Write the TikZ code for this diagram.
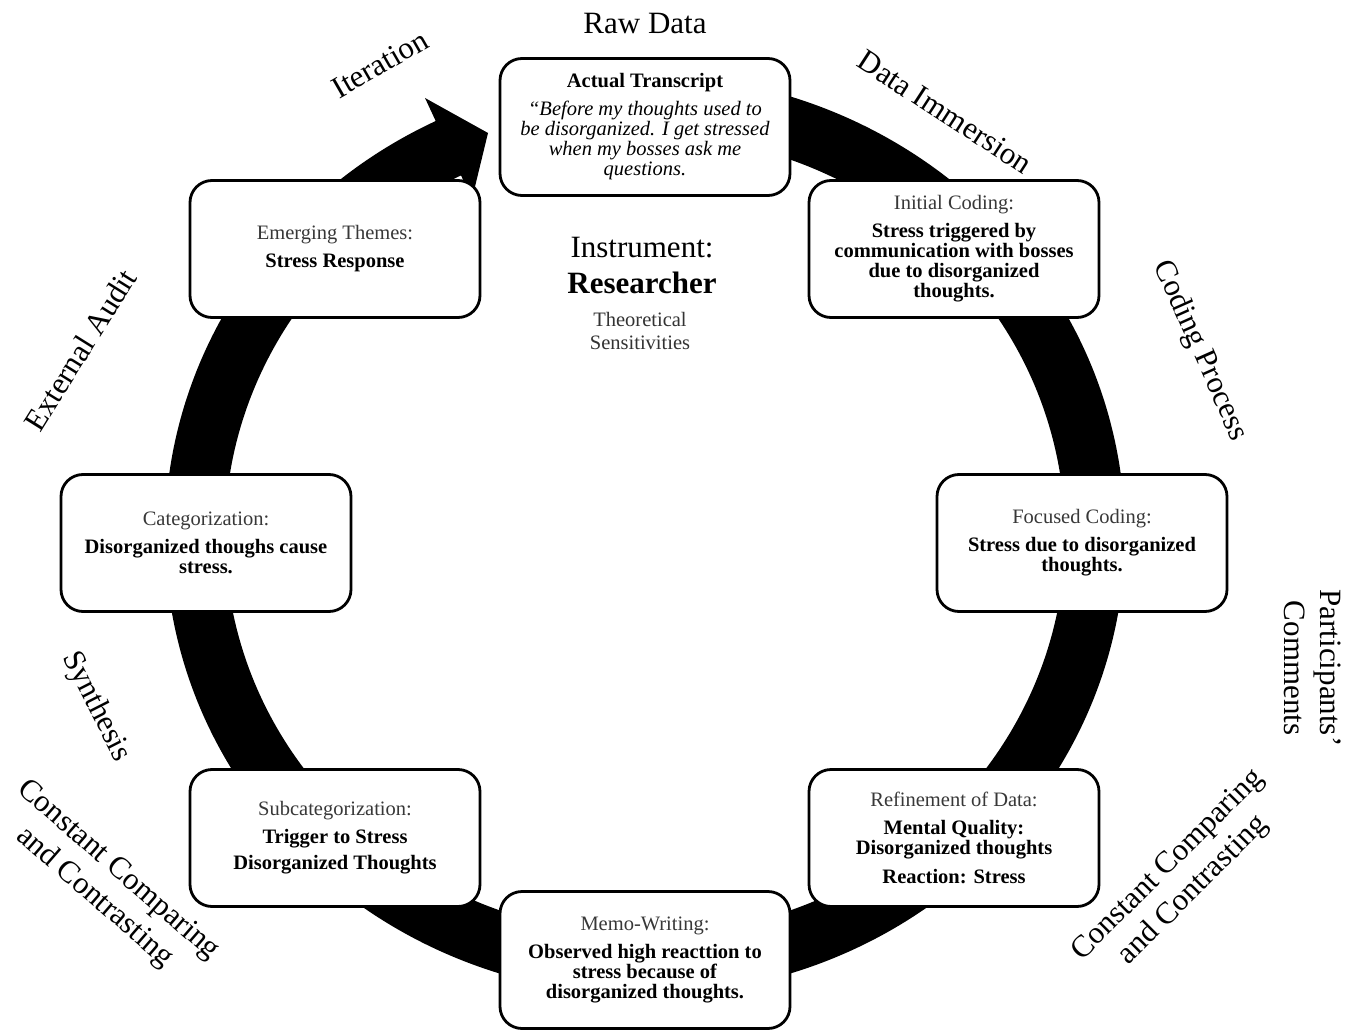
\documentclass[tikz,border=0pt]{standalone}
\usepackage{fontspec}
\setmainfont{Liberation Serif}
\newcommand{\boxtitle}[1]{{\color{black!78}#1}}
\begin{document}
\begin{tikzpicture}[x=1pt,y=-1pt,
  stagebox/.style={draw=black, line width=2.8pt, rounded corners=22pt, fill=white,
    minimum width=290pt, minimum height=137pt, align=center, inner sep=4pt,
    font=\fontsize{20.5}{20}\selectfont},
  biglab/.style={font=\fontsize{31}{36}\selectfont, align=center, inner sep=0pt}]
\useasboundingbox (0,0) rectangle (1368,1032);
\fill[white] (0,0) rectangle (1368,1032);
% ring
\coordinate (c) at (645,535);
\draw[line width=60pt] (c) ++(262:450 and 430)
  arc[start angle=262, end angle=605, x radius=450, y radius=430];
\coordinate (ho) at (425,98);
\coordinate (hi) at (472,199);
\coordinate (ht) at (488,133);
\fill (ho) -- (ht) -- (hi) -- cycle;
% boxes
\node[stagebox] (tr) at (645,127) {\textbf{Actual Transcript}\\[8pt]
  \textit{“Before my thoughts used to}\\
  \textit{be disorganized. I get stressed}\\
  \textit{when my bosses ask me}\\
  \textit{questions.}};
\node[stagebox] (ic) at (954,249) {\boxtitle{Initial Coding:}\\[8pt]
  \textbf{Stress triggered by}\\
  \textbf{communication with bosses}\\
  \textbf{due to disorganized}\\
  \textbf{thoughts.}};
\node[stagebox] (fc) at (1082,543) {\boxtitle{Focused Coding:}\\[8pt]
  \textbf{Stress due to disorganized}\\
  \textbf{thoughts.}};
\node[stagebox] (rd) at (954,838) {\boxtitle{Refinement of Data:}\\[8pt]
  \textbf{Mental Quality:}\\
  \textbf{Disorganized thoughts}\\[9pt]
  \textbf{Reaction: Stress}};
\node[stagebox] (mw) at (645,960) {\boxtitle{Memo-Writing:}\\[8pt]
  \textbf{Observed high reacttion to}\\
  \textbf{stress because of}\\
  \textbf{disorganized thoughts.}};
\node[stagebox] (sc) at (335,838) {\boxtitle{Subcategorization:}\\[8pt]
  \textbf{Trigger to Stress}\\[6pt]
  \textbf{Disorganized Thoughts}};
\node[stagebox] (cat) at (206,543) {\boxtitle{Categorization:}\\[8pt]
  \textbf{Disorganized thoughs cause}\\
  \textbf{stress.}};
\node[stagebox] (et) at (335,249) {\boxtitle{Emerging Themes:}\\[8pt]
  \textbf{Stress Response}};
% centre text
\node[biglab] (inst) at (642,248) {Instrument:};
\node[biglab] (res) at (642,283) {\textbf{Researcher}};
\node[align=center, inner sep=0pt, font=\fontsize{20.5}{23}\selectfont, text=black!80] (ts) at (640,331) {Theoretical\\Sensitivities};
% outer labels
\node[biglab] (raw) at (645,24) {Raw Data};
\node[biglab, rotate=30] (iter) at (380,64) {Iteration};
\node[biglab, rotate=-33] (dat) at (945,112) {Data Immersion};
\node[biglab, rotate=-66] (cod) at (1200,351) {Coding Process};
\node[biglab, rotate=-90] (par) at (1313,668) {Participants'\\Comments};
\node[biglab, rotate=45] (ccr) at (1181,878) {Constant Comparing\\and Contrasting};
\node[biglab, rotate=58] (ext) at (80,350) {External Audit};
\node[biglab, rotate=-63] (syn) at (96,707) {Synthesis};
\node[biglab, rotate=-41] (ccl) at (106,884) {Constant Comparing\\and Contrasting};
\end{tikzpicture}
\end{document}
